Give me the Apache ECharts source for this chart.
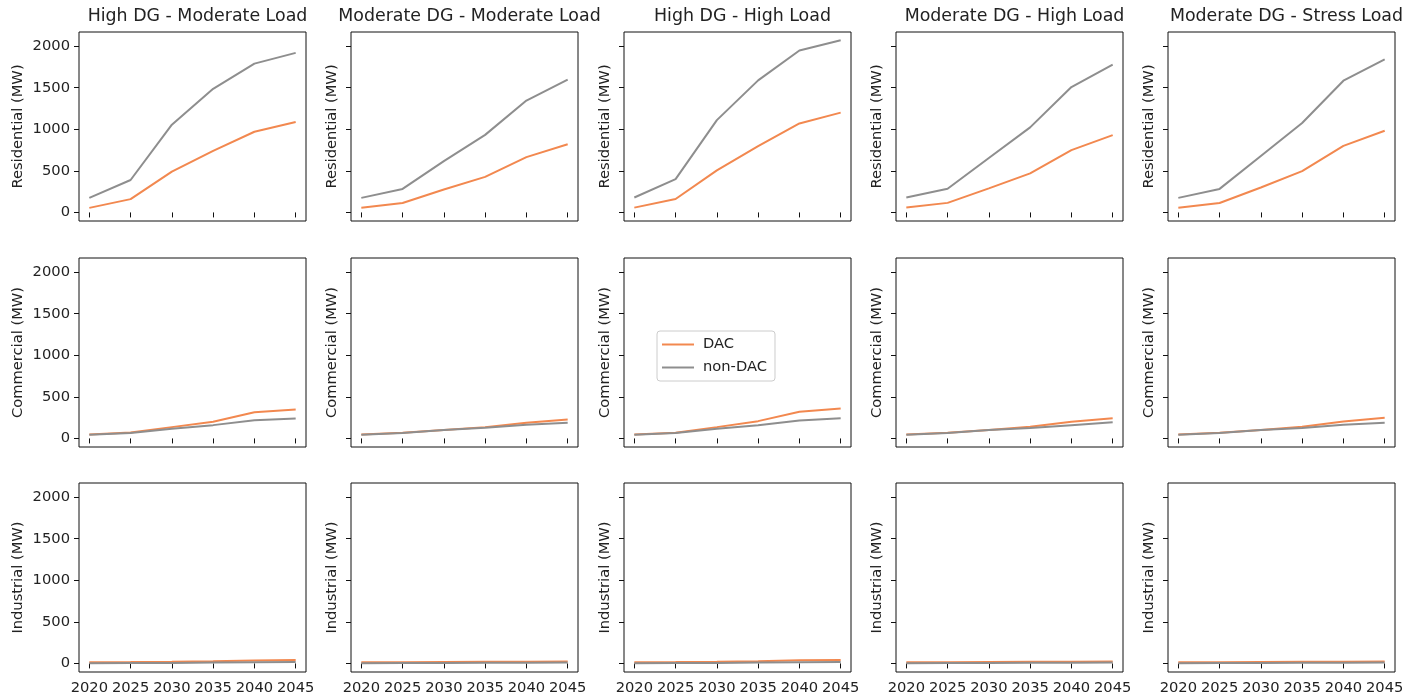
<!DOCTYPE html>
<html>
<head>
<meta charset="utf-8">
<script src="https://cdn.jsdelivr.net/npm/echarts@6/dist/echarts.min.js"></script>
<style>
html,body{margin:0;padding:0;background:#fff;}
#chart{width:1418px;height:700px;}
</style>
</head>
<body>
<div id="chart"></div>
<script>
const years = [2020, 2025, 2030, 2035, 2040, 2045];
const xTicks = [2020, 2025, 2030, 2035, 2040, 2045];
const yTicks = [0, 500, 1000, 1500, 2000];
const scenarios = ["High DG - Moderate Load", "Moderate DG - Moderate Load", "High DG - High Load", "Moderate DG - High Load", "Moderate DG - Stress Load"];
const sectors = ["Residential (MW)", "Commercial (MW)", "Industrial (MW)"];
const seriesNames = ["DAC", "non-DAC"];

// one row per scenario (column), values per year
const residentialDAC = [
  [55, 160, 490, 740, 970, 1087],
  [55, 113, 275, 428, 665, 820],
  [58, 162, 505, 797, 1070, 1200],
  [58, 115, 290, 470, 750, 930],
  [55, 113, 300, 497, 800, 982]
];
const residentialNonDAC = [
  [175, 390, 1055, 1487, 1790, 1919],
  [175, 283, 618, 933, 1345, 1596],
  [180, 400, 1110, 1588, 1948, 2070],
  [180, 285, 655, 1023, 1508, 1778],
  [175, 283, 679, 1075, 1584, 1842]
];
const commercialDAC = [
  [48, 70, 136, 200, 316, 348],
  [48, 68, 100, 136, 188, 228],
  [48, 68, 136, 208, 320, 360],
  [48, 68, 100, 140, 200, 244],
  [48, 68, 100, 140, 205, 250]
];
const commercialNonDAC = [
  [45, 65, 116, 160, 220, 240],
  [45, 65, 100, 128, 165, 188],
  [45, 65, 116, 160, 216, 244],
  [45, 65, 100, 125, 160, 195],
  [45, 65, 100, 125, 165, 190]
];
const industrialDAC = [
  [15, 16, 20, 26, 36, 40],
  [15, 15, 17, 19, 21, 24],
  [15, 16, 20, 27, 38, 42],
  [15, 15, 17, 19, 21, 24],
  [15, 15, 17, 19, 21, 24]
];
const industrialNonDAC = [
  [3, 4, 6, 10, 14, 17],
  [3, 4, 5, 7, 9, 11],
  [3, 4, 6, 10, 15, 18],
  [3, 4, 5, 7, 9, 11],
  [3, 4, 5, 7, 9, 11]
];

const colorDAC = '#F2884F';
const colorNon = '#8E8E8E';
const font = 'DejaVu Sans';
const textColor = '#222';
const tickFont = 14.7;

const dataBySector = [
  [residentialDAC, residentialNonDAC],
  [commercialDAC, commercialNonDAC],
  [industrialDAC, industrialNonDAC]
];

const colLefts = [79, 351, 624, 896, 1168];
const rowTops = [32, 258, 483];
const gw = 227, gh = 189;

const grids = [], xAxes = [], yAxes = [], series = [], titles = [];
let idx = 0;
for (let r = 0; r < 3; r++) {
  for (let c = 0; c < 5; c++) {
    grids.push({
      left: colLefts[c], top: rowTops[r], width: gw, height: gh,
      show: true, borderColor: '#111', borderWidth: 1, backgroundColor: '#fff'
    });
    xAxes.push({
      type: 'value', gridIndex: idx, min: 2018.75, max: 2046.25,
      axisLine: { show: false },
      splitLine: { show: false },
      axisTick: { show: true, length: 5, lineStyle: { color: '#111', width: 1 }, customValues: xTicks },
      axisLabel: { show: r === 2, customValues: xTicks, formatter: v => String(v), margin: 9, color: textColor, fontFamily: font, fontSize: tickFont }
    });
    yAxes.push({
      type: 'value', gridIndex: idx, min: -103, max: 2170,
      name: sectors[r], nameLocation: 'middle', nameRotate: 90,
      nameGap: c === 0 ? 53 : 11,
      nameTextStyle: { color: textColor, fontFamily: font, fontSize: tickFont, verticalAlign: 'bottom' },
      axisLine: { show: false },
      splitLine: { show: false },
      axisTick: { show: true, length: 5, lineStyle: { color: '#111', width: 1 }, customValues: yTicks },
      axisLabel: { show: c === 0, customValues: yTicks, formatter: v => String(v), margin: 9, color: textColor, fontFamily: font, fontSize: tickFont }
    });
    const sets = dataBySector[r];
    for (let s = 0; s < 2; s++) {
      series.push({
        type: 'line', name: seriesNames[s], xAxisIndex: idx, yAxisIndex: idx,
        data: years.map((y, i) => [y, sets[s][c][i]]),
        showSymbol: false, symbol: 'none', silent: true, animation: false,
        lineStyle: { color: s === 0 ? colorDAC : colorNon, width: 2 },
        itemStyle: { color: s === 0 ? colorDAC : colorNon },
        z: 2 + s
      });
    }
    idx++;
  }
}
for (let c = 0; c < 5; c++) {
  titles.push({
    text: scenarios[c], left: colLefts[c] + gw / 2, top: 3, textAlign: 'center',
    textStyle: { color: textColor, fontFamily: font, fontSize: 17.4, fontWeight: 'normal' }
  });
}

const chart = echarts.init(document.getElementById('chart'), null, { renderer: 'canvas' });
chart.setOption({
  animation: false,
  backgroundColor: '#fff',
  title: titles,
  grid: grids,
  xAxis: xAxes,
  yAxis: yAxes,
  legend: {
    data: seriesNames, orient: 'vertical', left: 657, top: 331,
    icon: 'rect', itemWidth: 32, itemHeight: 2, itemGap: 8,
    padding: [6, 8, 6, 5],
    borderColor: '#ccc', borderWidth: 1, borderRadius: 3, backgroundColor: '#fff',
    textStyle: { color: textColor, fontFamily: font, fontSize: tickFont, lineHeight: 14, padding: [0, 0, 0, 4] },
    selectedMode: false
  },
  series: series
});
</script>
</body>
</html>
